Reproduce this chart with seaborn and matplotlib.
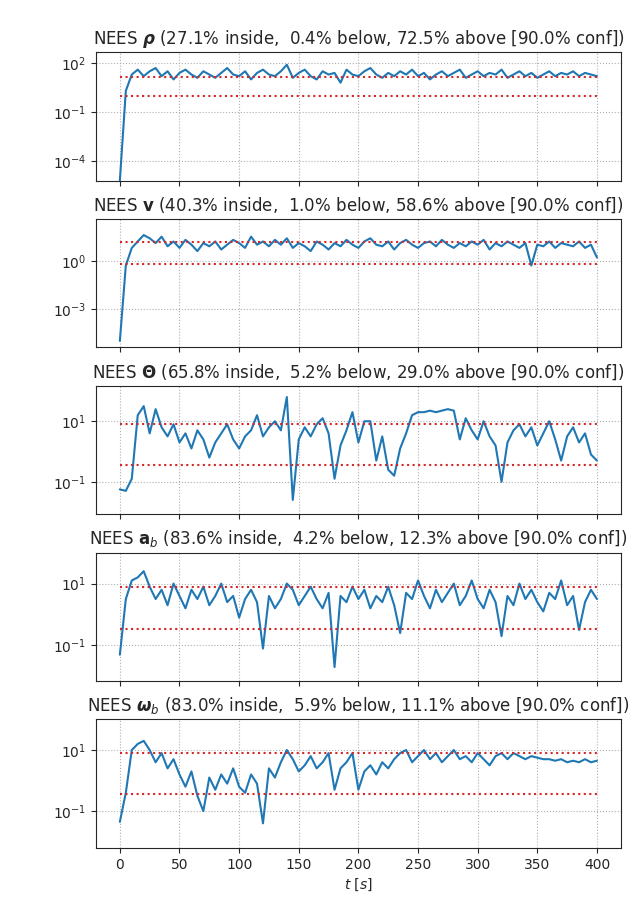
import numpy as np
import matplotlib
matplotlib.use("Agg")
import matplotlib.pyplot as plt
import seaborn as sns

# log10 NEES values, one every 5 s from 0 to 400 s
log_rho = [-5.2, 0.3, 1.3, 1.6, 1.2, 1.5, 1.7, 1.2, 1.5, 1.0,
           1.4, 1.6, 1.3, 1.1, 1.5, 1.3, 1.1, 1.4, 1.7, 1.3,
           1.2, 1.5, 1.0, 1.4, 1.6, 1.3, 1.2, 1.5, 1.9, 1.1,
           1.4, 1.6, 1.2, 1.0, 1.5, 1.3, 1.4, 0.8, 1.6, 1.3,
           1.2, 1.5, 1.7, 1.3, 1.1, 1.4, 1.2, 1.5, 1.3, 1.6,
           1.2, 1.4, 1.0, 1.3, 1.5, 1.2, 1.4, 1.6, 1.1, 1.3,
           1.5, 1.2, 1.4, 1.3, 1.6, 1.1, 1.3, 1.5, 1.2, 1.4,
           1.1, 1.3, 1.5, 1.2, 1.4, 1.3, 1.5, 1.2, 1.4, 1.3, 1.2]
log_v = [-5.0, -0.3, 0.8, 1.2, 1.6, 1.4, 1.1, 1.5, 0.9, 1.2,
         0.8, 1.3, 1.0, 0.6, 1.1, 0.9, 1.2, 0.7, 1.0, 1.3,
         1.1, 0.8, 1.5, 1.0, 1.2, 0.9, 1.3, 1.0, 1.4, 0.8,
         1.1, 0.9, 0.6, 1.2, 1.0, 0.7, 1.1, 0.9, 1.3, 1.0,
         0.8, 1.2, 1.4, 1.0, 0.9, 1.2, 0.7, 1.1, 1.3, 1.0,
         0.8, 1.1, 1.2, 0.9, 1.3, 1.0, 0.8, 1.1, 0.9, 1.2,
         1.0, 1.3, 0.7, 1.1, 0.9, 1.2, 1.0, 0.8, 1.1, -0.3,
         1.0, 0.9, 1.2, 0.8, 1.1, 1.0, 0.9, 1.2, 0.8, 1.0, 0.2]
log_theta = [-1.25, -1.3, -0.9, 1.2, 1.5, 0.6, 1.4, 0.8, 0.5, 0.9,
             0.3, 0.6, 0.1, 0.7, 0.4, -0.2, 0.3, 0.6, 0.9, 0.4,
             0.1, 0.5, 0.7, 1.2, 0.5, 0.8, 1.0, 0.7, 1.8, -1.6,
             0.4, 0.8, 0.5, 0.9, 1.1, 0.6, -0.9, 0.2, 0.7, 1.3,
             0.3, 1.0, 1.0, -0.3, 0.5, -0.6, -0.8, 0.1, 0.6, 1.2,
             1.3, 1.3, 1.35, 1.3, 1.35, 1.4, 1.35, 0.4, 1.1, 0.7,
             0.4, 1.0, 0.5, 0.2, -1.0, 0.3, 0.7, 0.9, 0.5, 0.8,
             0.2, 0.6, 1.0, 0.4, -0.3, 0.5, 0.8, 0.3, 0.6, -0.1, -0.3]
log_ab = [-1.3, 0.5, 1.1, 1.2, 1.4, 0.9, 0.5, 0.8, 0.3, 1.0,
          0.6, 0.2, 0.8, 0.5, 0.9, 0.3, 0.6, 1.0, 0.4, 0.6,
          -0.1, 0.5, 0.8, 0.4, -1.1, 0.6, 0.2, 0.5, 1.0, 0.8,
          0.3, 0.6, 0.9, 0.5, 0.2, 0.7, -1.7, 0.6, 0.4, 0.9,
          0.5, 0.8, 0.2, 0.6, 0.4, 0.9, 0.3, -0.6, 0.7, 0.5,
          1.1, 0.6, 0.2, 0.8, 0.4, 0.7, 1.0, 0.3, 0.6, 1.1,
          0.5, 0.2, 0.8, 0.4, -0.7, 0.6, 0.3, 1.0, 0.5, 0.8,
          0.4, 0.1, 0.7, 0.5, 1.1, 0.3, 0.6, -0.5, 0.4, 0.8, 0.5]
log_wb = [-1.35, -0.4, 1.0, 1.2, 1.3, 1.0, 0.6, 0.9, 0.4, 0.7,
          0.2, -0.2, 0.3, -0.5, -1.0, 0.1, -0.3, 0.2, -0.1, 0.4,
          -0.2, -0.4, 0.2, -0.1, -1.4, 0.4, 0.1, 0.6, 1.0, 0.7,
          0.3, 0.5, 0.8, 0.4, 0.6, 0.9, -0.3, 0.4, 0.6, 0.9,
          -0.3, 0.3, 0.5, 0.2, 0.6, 0.4, 0.7, 0.9, 1.0, 0.6,
          0.8, 1.0, 0.7, 0.9, 0.6, 0.8, 1.0, 0.7, 0.8, 0.6,
          0.9, 0.7, 0.5, 0.8, 0.9, 0.7, 0.9, 0.8, 0.7, 0.8,
          0.75, 0.7, 0.7, 0.65, 0.7, 0.6, 0.65, 0.6, 0.7, 0.6, 0.65]

titles = [
    r"NEES $\boldsymbol{\rho}$ (27.1% inside,  0.4% below, 72.5% above [90.0% conf])",
    r"NEES $\mathbf{v}$ (40.3% inside,  1.0% below, 58.6% above [90.0% conf])",
    r"NEES $\mathbf{\Theta}$ (65.8% inside,  5.2% below, 29.0% above [90.0% conf])",
    r"NEES $\mathbf{a}_b$ (83.6% inside,  4.2% below, 12.3% above [90.0% conf])",
    r"NEES $\boldsymbol{\omega}_b$ (83.0% inside,  5.9% below, 11.1% above [90.0% conf])",
]
series = [log_rho, log_v, log_theta, log_ab, log_wb]
ylims = [(10**-5.2, 10**2.67), (10**-5.4, 10**2.6), (10**-2.07, 10**2.17),
         (10**-2.15, 10**2.0), (10**-2.2, 10**2.0)]
yticks = [[1e-4, 1e-1, 1e2], [1e-3, 1e0], [1e-1, 1e1], [1e-1, 1e1], [1e-1, 1e1]]
conf_bounds = [(1.0, 14.0), (0.65, 15.0), (0.352, 7.81), (0.352, 7.81), (0.352, 7.81)]

sns.set_style("ticks")
plt.rcParams["font.family"] = ["DejaVu Sans"]
fig, axes = plt.subplots(5, 1, figsize=(6.4, 9), sharex=True)
fig.subplots_adjust(left=0.15, right=0.97, top=0.942, bottom=0.058, hspace=0.3)
for ax, vals, title, yl, yt, (lo, hi) in zip(axes, series, titles, ylims, yticks, conf_bounds):
    t = np.arange(len(vals)) * 5.0
    sns.lineplot(x=t, y=10 ** np.array(vals), ax=ax, color="#1f77b4")
    ax.plot([0, 400], [lo, lo], ":", color="tab:red")
    ax.plot([0, 400], [hi, hi], ":", color="tab:red")
    ax.set_yscale("log")
    ax.set_ylim(*yl)
    ax.set_yticks(yt)
    ax.set_title(title, fontsize=12)
    ax.grid(True, linestyle=":", color="#b0b0b0")
axes[-1].set_xlim(-20, 420)
axes[-1].set_xticks(np.arange(0, 401, 50))
axes[-1].set_xlabel(r"$t$ [$s$]")
plt.savefig("out.png", dpi=100)
plt.close()
